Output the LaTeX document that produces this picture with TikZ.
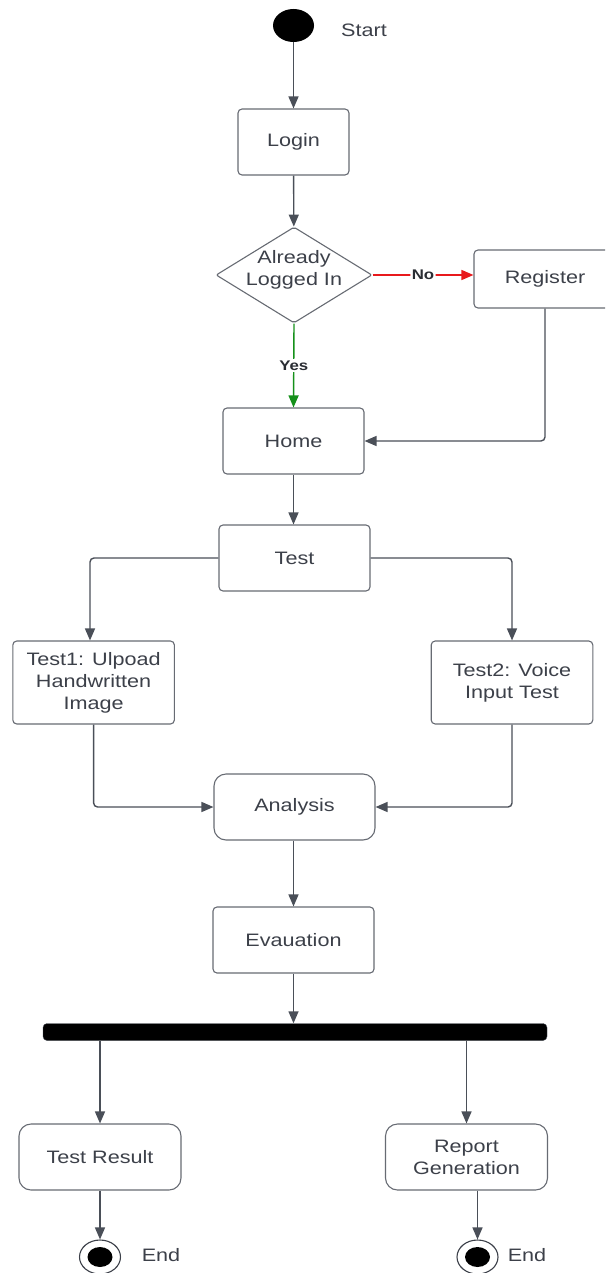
\documentclass[tikz,border=0pt]{standalone}
\usepackage{fontspec}
\setmainfont{Liberation Sans}[FakeStretch=1.2]
\usetikzlibrary{shapes.geometric,arrows.meta}
\definecolor{ink}{HTML}{3C4049}
\definecolor{edge}{HTML}{4A4F58}
\definecolor{frame}{HTML}{676B73}
\definecolor{noRed}{HTML}{E8191C}
\definecolor{yesGreen}{HTML}{15901A}

\begin{document}
\begin{tikzpicture}[x=1pt,y=-1pt,
  every node/.style={text=ink, font=\fontsize{18}{22}\selectfont, inner sep=0pt},
  act/.style={draw=frame, line width=1.1pt, rounded corners=4pt, align=center, fill=white},
  softact/.style={act, rounded corners=12pt},
  flow/.style={draw=edge, line width=1.4pt, -{Triangle[length=12pt,width=10pt]}, rounded corners=4pt},
  tag/.style={fill=white, font=\bfseries\fontsize{14}{16}\selectfont, text=ink!70!black, inner sep=1.5pt},
]
\useasboundingbox (0,0) rectangle (605,1273);
\clip (0,0) rectangle (605,1273);

% start and login
\node[ellipse, fill=black, minimum width=41pt, minimum height=33pt] (start) at (293.5,25.5) {};
\node (startlbl) at (364,30) {Start};
\node[act, minimum width=111pt, minimum height=66pt] (login) at (293.5,142) {Login};

% decision
\node[diamond, draw=frame, line width=1.1pt, minimum width=156pt, minimum height=96pt, rounded corners=2pt] (dec) at (294,275) {};
\node[align=center] (dectext) at (294,270) {Already\\Logged In};
\node[act, minimum width=142pt, minimum height=58pt] (reg) at (545,279) {Register};
\node[act, minimum width=141pt, minimum height=66pt] (home) at (293.5,441) {Home};

% tests
\node[act, minimum width=151pt, minimum height=66pt] (test) at (294.5,558) {Test};
\node[act, minimum width=161.6pt, minimum height=83pt] (t1) at (93.6,682.5) {Test1: Ulpoad\\Handwritten\\Image};
\node[act, minimum width=161.6pt, minimum height=83pt] (t2) at (512,682.5) {Test2: Voice\\Input Test};
\node[softact, minimum width=161pt, minimum height=66pt] (ana) at (294.5,807) {Analysis};
\node[act, minimum width=161pt, minimum height=66pt] (eva) at (293.5,940) {Evauation};

% fork bar and outputs
\node[fill=black, draw=edge, rounded corners=4pt, minimum width=504pt, minimum height=17pt] (bar) at (295,1032) {};
\node[softact, minimum width=162pt, minimum height=66pt] (tr) at (100,1157) {Test Result};
\node[softact, minimum width=162pt, minimum height=66pt] (rep) at (466.5,1157) {Report\\Generation};

% end states
\node[ellipse, draw=ink, line width=1.1pt, fill=white, minimum width=41pt, minimum height=34pt] (end1) at (100,1257) {};
\node[ellipse, fill=black, minimum width=25pt, minimum height=20pt] (dot1) at (end1.center) {};
\node (endlbl1) at (161,1255) {End};
\node[ellipse, draw=ink, line width=1.1pt, fill=white, minimum width=41pt, minimum height=34pt] (end2) at (477.5,1257) {};
\node[ellipse, fill=black, minimum width=25pt, minimum height=20pt] (dot2) at (end2.center) {};
\node (endlbl2) at (527,1255) {End};

% connectors
\draw[flow] (start) -- (login);
\draw[flow] (login) -- (dec);
\draw[flow, draw=noRed] (dec.east) -- node[tag]{No} (reg.west |- dec.east);
\draw[flow, draw=yesGreen] (dec.south) -- node[tag]{Yes} (home.north);
\draw[flow] (reg.south) |- (home.east);
\draw[flow] (home.south) -- (home.south |- test.north);
\draw[flow] (test.west) -| ([xshift=-3.6pt]t1.north);
\draw[flow] (test.east) -| (t2.north);
\draw[flow] (t1.south) |- (ana.west);
\draw[flow] (t2.south) |- (ana.east);
\draw[flow] (eva.north |- ana.south) -- (eva.north);
\draw[flow] (eva.south) -- (eva.south |- bar.north);
\draw[flow] (bar.south -| tr.north) -- (tr.north);
\draw[flow] (bar.south -| rep.north) -- (rep.north);
\draw[flow] (tr.south) -- (end1.north);
\draw[flow] (rep.south -| end2.north) -- (end2.north);
\end{tikzpicture}
\end{document}
